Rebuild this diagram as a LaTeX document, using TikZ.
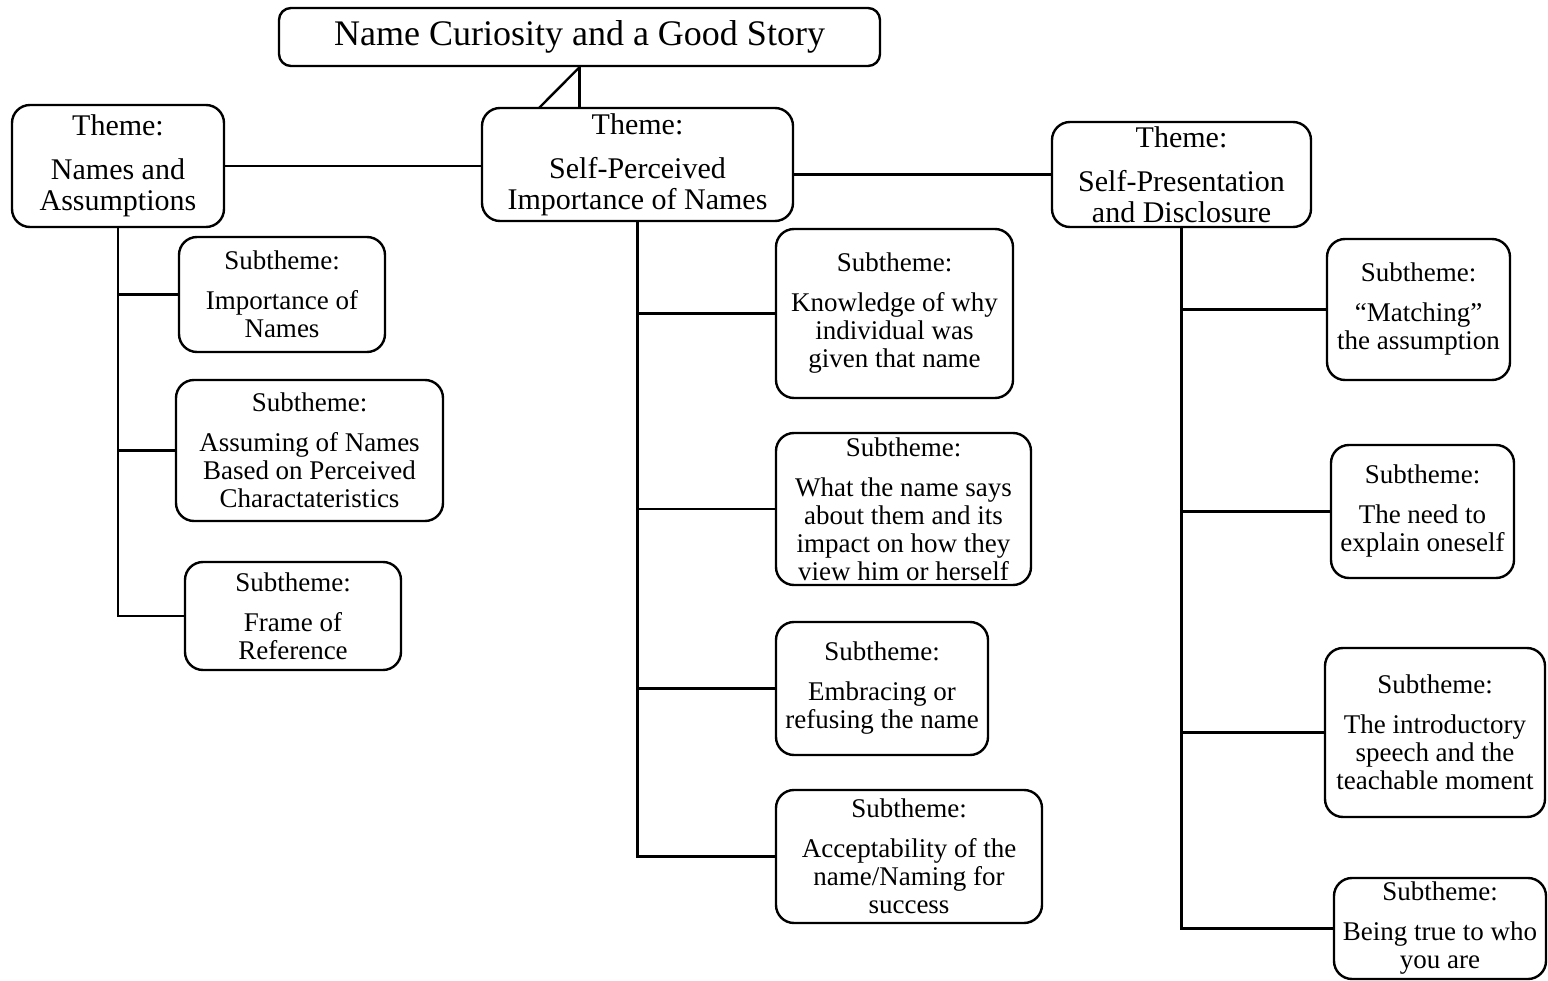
\documentclass[tikz,border=0pt]{standalone}
\usepackage{fontspec}
\setmainfont{Liberation Serif}

\begin{document}
\begin{tikzpicture}[x=1pt, y=-1pt,
		titlebox/.style={draw, line width=2.4pt, rounded corners=12pt, inner sep=0pt, align=center, font=\fontsize{36}{38}\selectfont},
		themebox/.style={draw, line width=2.4pt, rounded corners=18pt, inner sep=0pt, align=center, font=\fontsize{30}{31}\selectfont},
		subbox/.style={draw, line width=2.4pt, rounded corners=18pt, inner sep=0pt, align=center, font=\fontsize{27}{28}\selectfont},
		link/.style={line width=2.4pt}]
			\useasboundingbox (0,0) rectangle (1548,981);
			
			% Titolo
			\node[titlebox, minimum width=601pt, minimum height=58pt] (title) at (579.5, 37) {Name Curiosity and a Good Story};
			
			% Temi
			\node[themebox, minimum width=212pt, minimum height=122pt] (t1) at (118, 166) {Theme:\\[13pt]Names and\\Assumptions};
			\node[themebox, minimum width=311pt, minimum height=113pt] (t2) at (637.5, 164.5) {Theme:\\[13pt]Self-Perceived\\Importance of Names};
			\node[themebox, minimum width=259pt, minimum height=105pt] (t3) at (1181.5, 174.5) {Theme:\\[13pt]Self-Presentation\\and Disclosure};
			
			% Sottotemi a sinistra
			\node[subbox, minimum width=206pt, minimum height=115pt] (s1) at (282, 294.5) {Subtheme:\\[12pt]Importance of\\Names};
			\node[subbox, minimum width=267pt, minimum height=141pt] (s2) at (309.5, 450.5) {Subtheme:\\[12pt]Assuming of Names\\Based on Perceived\\Charactateristics};
			\node[subbox, minimum width=216pt, minimum height=108pt] (s3) at (293, 616) {Subtheme:\\[12pt]Frame of\\Reference};
			
			% Sottotemi al centro
			\node[subbox, minimum width=237pt, minimum height=169pt] (m1) at (894.5, 313.5) {Subtheme:\\[12pt]Knowledge of why\\individual was\\given that name};
			\node[subbox, minimum width=255pt, minimum height=152pt] (m2) at (903.5, 509) {Subtheme:\\[12pt]What the name says\\about them and its\\impact on how they\\view him or herself};
			\node[subbox, minimum width=212pt, minimum height=133pt] (m3) at (882, 688.5) {Subtheme:\\[12pt]Embracing or\\refusing the name};
			\node[subbox, minimum width=266pt, minimum height=133pt] (m4) at (909, 856.5) {Subtheme:\\[12pt]Acceptability of the\\name/Naming for\\success};
			
			% Sottotemi a destra
			\node[subbox, minimum width=183pt, minimum height=141pt] (r1) at (1418.5, 309.5) {Subtheme:\\[12pt]“Matching”\\the assumption};
			\node[subbox, minimum width=183pt, minimum height=133pt] (r2) at (1422.5, 511.5) {Subtheme:\\[12pt]The need to\\explain oneself};
			\node[subbox, minimum width=220pt, minimum height=169pt] (r3) at (1435, 732.5) {Subtheme:\\[12pt]The introductory\\speech and the\\teachable moment};
			\node[subbox, minimum width=212pt, minimum height=101pt] (r4) at (1440, 928.5) {Subtheme:\\[12pt]Being true to who\\you are};
			
			% Titolo e tema centrale
			\coordinate (d) at (539, 108);
			\draw[link] (title.south) -- (title.south |- t2.north);
			\draw[link] (title.south) -- (d);
			
			% Archi tra i temi
			\draw[link] (t1.east) -- (t1.east -| t2.west);
			\draw[link] (t3.west) -- (t3.west -| t2.east);
			
			% Archi verso i sottotemi
			\foreach \s in {s1, s2, s3} \draw[link] (t1.south) |- (\s.west);
			\foreach \s in {m1, m2, m3, m4} \draw[link] (t2.south) |- (\s.west);
			\foreach \s in {r1, r2, r3, r4} \draw[link] (t3.south) |- (\s.west);
		\end{tikzpicture}
\end{document}
